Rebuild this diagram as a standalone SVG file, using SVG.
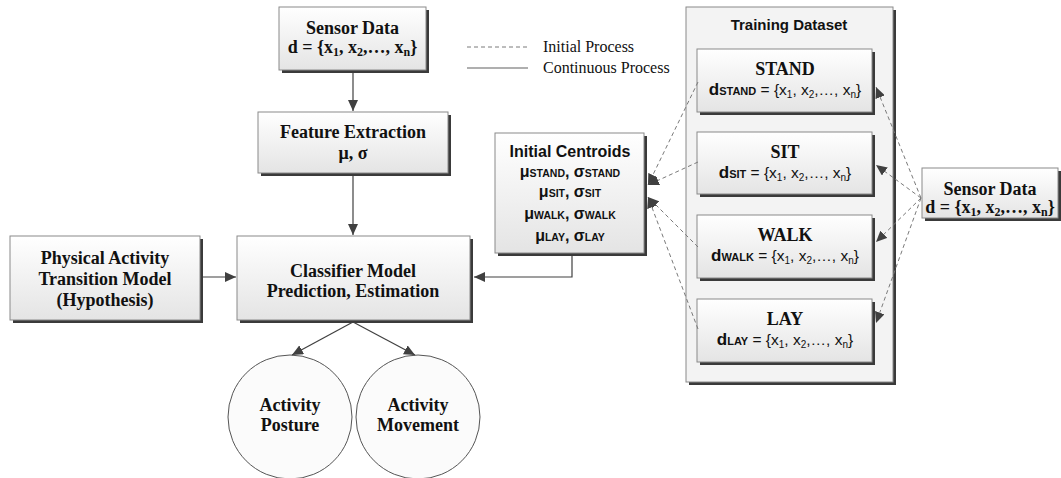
<svg xmlns="http://www.w3.org/2000/svg" width="1061" height="478" viewBox="0 0 1061 478">
<defs>
<linearGradient id="g" x1="0" y1="0" x2="0" y2="1">
<stop offset="0" stop-color="#ffffff"/>
<stop offset="1" stop-color="#e4e4e4"/>
</linearGradient>
<marker id="ah" markerUnits="userSpaceOnUse" markerWidth="12" markerHeight="10" refX="11" refY="5" orient="auto">
<path d="M0,0 L11,5 L0,10 z" fill="#404040"/>
</marker>
<style>
.box{fill:url(#g);stroke:#8a8a8a;stroke-width:1}
.sh{fill:#3a3a3a}
.outer{fill:#f3f3f3;stroke:#8a8a8a;stroke-width:1}
.circ{fill:#fbfbfb;stroke:#555;stroke-width:1}
.sb{font-family:"Liberation Serif",serif;font-weight:bold;font-size:18px;fill:#111;text-anchor:middle}
.ss{font-family:"Liberation Sans",sans-serif;font-weight:bold;font-size:15px;fill:#111;text-anchor:middle}
.ic{font-family:"Liberation Sans",sans-serif;font-weight:bold;font-size:16px;fill:#111;text-anchor:middle}
.sf{font-family:"Liberation Sans",sans-serif;font-size:15.5px;fill:#111;text-anchor:middle}
.lg{font-family:"Liberation Serif",serif;font-size:16px;fill:#111}
.solid{stroke:#404040;stroke-width:1.2;fill:none}
.dash{stroke:#7a7a7a;stroke-width:1;stroke-dasharray:4 3;fill:none}
</style>
</defs>
<rect width="1061" height="478" fill="#ffffff"/>

<g id="legend">
<line x1="467" y1="47" x2="528" y2="47" class="dash"/>
<line x1="467" y1="68" x2="528" y2="68" stroke="#606060" stroke-width="1.2"/>
<text x="543" y="52" class="lg">Initial Process</text>
<text x="543" y="73" class="lg">Continuous Process</text>
</g>

<g id="training-dataset">
<rect x="689" y="10" width="207" height="375" class="sh"/>
<rect x="686" y="7" width="207" height="375" class="outer"/>
<text x="789" y="30" class="ss">Training Dataset</text>
</g>

<g id="sensor-data-top">
<rect x="282" y="10" width="147" height="63" class="sh"/>
<rect x="279" y="7" width="147" height="63" class="box"/>
<text x="352.5" y="34" class="sb">Sensor Data</text>
<text x="352.5" y="53" class="sb">d = {x<tspan font-size="12" dy="3">1</tspan><tspan dy="-3">, x</tspan><tspan font-size="12" dy="3">2</tspan><tspan dy="-3">,…, x</tspan><tspan font-size="12" dy="3">n</tspan><tspan dy="-3">}</tspan></text>
</g>

<g id="feature-extraction">
<rect x="261" y="115" width="190" height="61" class="sh"/>
<rect x="258" y="112" width="190" height="61" class="box"/>
<text x="353" y="138" class="sb">Feature Extraction</text>
<text x="353" y="159" class="sb">μ, σ</text>
</g>

<g id="physical-activity">
<rect x="13" y="239" width="190" height="84" class="sh"/>
<rect x="10" y="236" width="190" height="84" class="box"/>
<text x="105" y="264" class="sb">Physical Activity</text>
<text x="105" y="285" class="sb">Transition Model</text>
<text x="105" y="306" class="sb">(Hypothesis)</text>
</g>

<g id="classifier">
<rect x="240" y="239" width="233" height="84" class="sh"/>
<rect x="237" y="236" width="233" height="84" class="box"/>
<text x="353" y="277" class="sb">Classifier Model</text>
<text x="353" y="297" class="sb">Prediction, Estimation</text>
</g>

<g id="initial-centroids">
<rect x="498" y="136" width="149" height="120" class="sh"/>
<rect x="495" y="133" width="149" height="120" class="box"/>
<text x="570" y="157" class="ic">Initial Centroids</text>
<text x="570" y="177" class="ic">μ<tspan font-size="10.5">STAND</tspan>, σ<tspan font-size="10.5">STAND</tspan></text>
<text x="570" y="197" class="ic">μ<tspan font-size="10.5">SIT</tspan>, σ<tspan font-size="10.5">SIT</tspan></text>
<text x="570" y="219" class="ic">μ<tspan font-size="10.5">WALK</tspan>, σ<tspan font-size="10.5">WALK</tspan></text>
<text x="570" y="241" class="ic">μ<tspan font-size="10.5">LAY</tspan>, σ<tspan font-size="10.5">LAY</tspan></text>
</g>

<g id="stand">
<rect x="700" y="52" width="175" height="63" class="sh"/>
<rect x="697" y="49" width="175" height="63" class="box"/>
<text x="785" y="75" class="sb">STAND</text>
<text x="785" y="95" class="sf"><tspan font-weight="bold" font-size="17">d</tspan><tspan font-size="11" font-weight="bold">STAND</tspan> = {x<tspan font-size="10" dy="3">1</tspan><tspan dy="-3">, x</tspan><tspan font-size="10" dy="3">2</tspan><tspan dy="-3">,…, x</tspan><tspan font-size="10" dy="3">n</tspan><tspan dy="-3">}</tspan></text>
</g>

<g id="sit">
<rect x="700" y="135" width="175" height="62" class="sh"/>
<rect x="697" y="132" width="175" height="62" class="box"/>
<text x="785" y="158" class="sb">SIT</text>
<text x="785" y="178" class="sf"><tspan font-weight="bold" font-size="17">d</tspan><tspan font-size="11" font-weight="bold">SIT</tspan> = {x<tspan font-size="10" dy="3">1</tspan><tspan dy="-3">, x</tspan><tspan font-size="10" dy="3">2</tspan><tspan dy="-3">,…, x</tspan><tspan font-size="10" dy="3">n</tspan><tspan dy="-3">}</tspan></text>
</g>

<g id="walk">
<rect x="700" y="218" width="175" height="63" class="sh"/>
<rect x="697" y="215" width="175" height="63" class="box"/>
<text x="785" y="241" class="sb">WALK</text>
<text x="785" y="261" class="sf"><tspan font-weight="bold" font-size="17">d</tspan><tspan font-size="11" font-weight="bold">WALK</tspan> = {x<tspan font-size="10" dy="3">1</tspan><tspan dy="-3">, x</tspan><tspan font-size="10" dy="3">2</tspan><tspan dy="-3">,…, x</tspan><tspan font-size="10" dy="3">n</tspan><tspan dy="-3">}</tspan></text>
</g>

<g id="lay">
<rect x="700" y="302" width="175" height="63" class="sh"/>
<rect x="697" y="299" width="175" height="63" class="box"/>
<text x="785" y="325" class="sb">LAY</text>
<text x="785" y="345" class="sf"><tspan font-weight="bold" font-size="17">d</tspan><tspan font-size="11" font-weight="bold">LAY</tspan> = {x<tspan font-size="10" dy="3">1</tspan><tspan dy="-3">, x</tspan><tspan font-size="10" dy="3">2</tspan><tspan dy="-3">,…, x</tspan><tspan font-size="10" dy="3">n</tspan><tspan dy="-3">}</tspan></text>
</g>

<g id="sensor-data-right">
<rect x="925" y="171" width="136" height="50" class="sh"/>
<rect x="922" y="168" width="136" height="50" class="box"/>
<text x="990" y="195" class="sb">Sensor Data</text>
<text x="990" y="213" class="sb">d = {x<tspan font-size="12" dy="3">1</tspan><tspan dy="-3">, x</tspan><tspan font-size="12" dy="3">2</tspan><tspan dy="-3">,…, x</tspan><tspan font-size="12" dy="3">n</tspan><tspan dy="-3">}</tspan></text>
</g>

<g id="activity-posture">
<circle cx="290" cy="417" r="62" class="circ"/>
<text x="290" y="411" class="sb">Activity</text>
<text x="290" y="431" class="sb">Posture</text>
</g>

<g id="activity-movement">
<circle cx="418" cy="417" r="62" class="circ"/>
<text x="418" y="411" class="sb">Activity</text>
<text x="418" y="431" class="sb">Movement</text>
</g>

<g id="connectors">
<line x1="353" y1="73" x2="353" y2="111" class="solid" marker-end="url(#ah)"/>
<line x1="353" y1="176" x2="353" y2="235" class="solid" marker-end="url(#ah)"/>
<line x1="203" y1="277" x2="236" y2="277" class="solid" marker-end="url(#ah)"/>
<polyline points="572,256 572,277 474,277" class="solid" marker-end="url(#ah)"/>
<line x1="353" y1="322" x2="292" y2="355" class="solid" marker-end="url(#ah)"/>
<line x1="353" y1="322" x2="415" y2="355" class="solid" marker-end="url(#ah)"/>
<line x1="698" y1="82" x2="648" y2="185" class="dash" marker-end="url(#ah)"/>
<line x1="698" y1="162" x2="648" y2="185" class="dash" marker-end="url(#ah)"/>
<line x1="698" y1="247" x2="648" y2="197" class="dash" marker-end="url(#ah)"/>
<line x1="698" y1="329" x2="648" y2="197" class="dash" marker-end="url(#ah)"/>
<line x1="921" y1="198" x2="876" y2="87" class="dash" marker-end="url(#ah)"/>
<line x1="921" y1="198" x2="876" y2="165" class="dash" marker-end="url(#ah)"/>
<line x1="921" y1="198" x2="876" y2="242" class="dash" marker-end="url(#ah)"/>
<line x1="921" y1="198" x2="876" y2="323" class="dash" marker-end="url(#ah)"/>
</g>
</svg>
